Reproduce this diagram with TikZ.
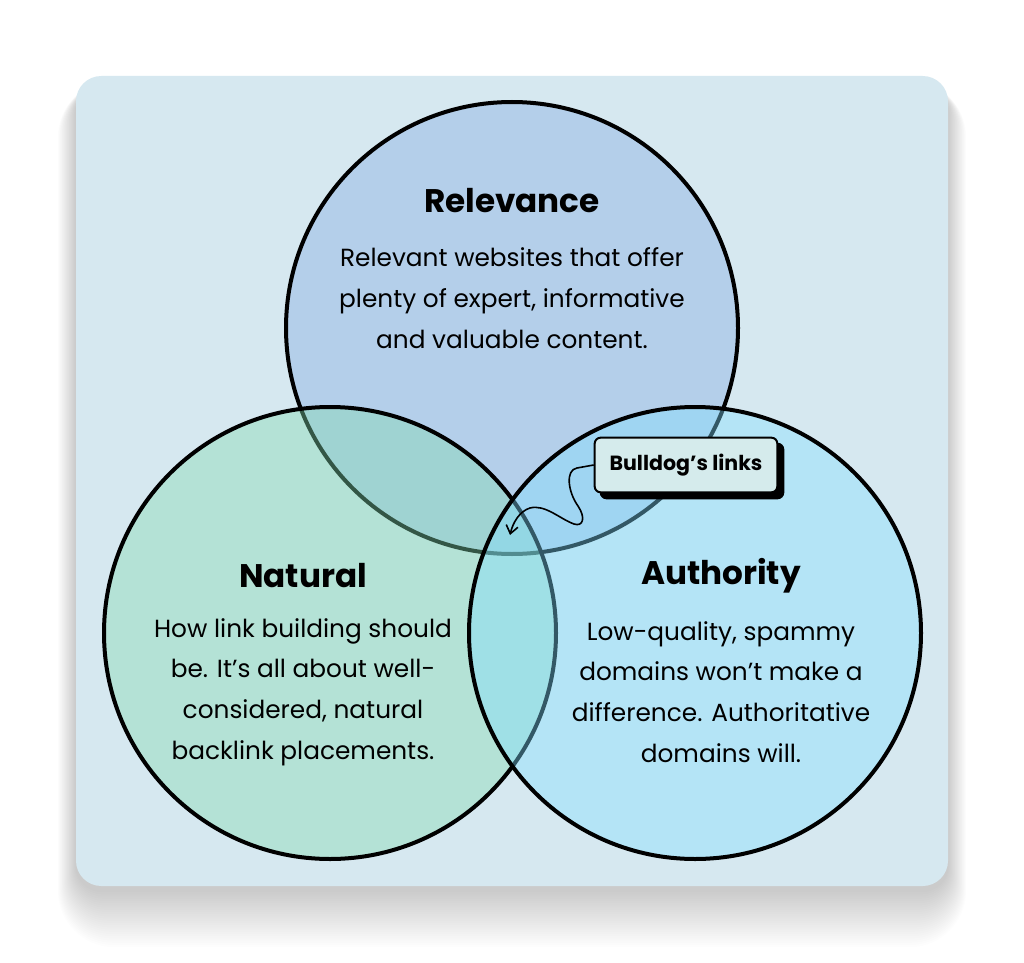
\documentclass[tikz,border=0pt]{standalone}
\usepackage{fontspec}
\setmainfont{Poppins}
\usetikzlibrary{arrows.meta}
\definecolor{bgc}{RGB}{214,232,240}
\definecolor{relc}{RGB}{129,170,225}
\definecolor{natc}{RGB}{129,217,175}
\definecolor{autc}{RGB}{129,222,255}
\definecolor{tagc}{RGB}{213,235,236}
\begin{document}
\begin{tikzpicture}[x=0.75pt,y=-0.75pt,
  venn/.style={draw=black, line width=3pt, fill opacity=0.4, draw opacity=1},
  titletext/.style={font=\fontsize{24.5}{28}\selectfont\bfseries, inner sep=0},
  bodytext/.style={font=\fontsize{18.6}{30.5}\selectfont, align=center, inner sep=0},
  tagbox/.style={draw=black, line width=1.5pt, fill=tagc, rounded corners=4.5pt,
    minimum width=137pt, minimum height=41pt, inner sep=0,
    font=\fontsize{15.4}{17}\selectfont\bfseries},
  squig/.style={line width=1.2pt, -{Straight Barb[length=6pt,width=9pt]}}
]
\useasboundingbox (0,0) rectangle (1024,963);
\fill[white] (0,0) rectangle (1024,963);
% soft shadow
\foreach \i in {1,...,26} {
  \fill[black, opacity=0.008, rounded corners={(19+\i*0.9)*1pt}]
    (76-0.7*\i, 76-0.2*\i+10) rectangle (948+0.7*\i, 886+2.2*\i+4);
}
\fill[bgc, rounded corners=19pt] (76,76) rectangle (948,886);
% circles
\coordinate (rel) at (512,328);
\coordinate (nat) at (330,633);
\coordinate (aut) at (695,633);
\draw[venn, fill=relc] (rel) circle (226);
\draw[venn, fill=natc] (nat) circle (226);
\draw[venn, fill=autc] (aut) circle (226);
% texts
\node[titletext] (relt) at (512,201) {Relevance};
\node[bodytext] (relb) at (512,298) {Relevant websites that offer\\plenty of expert, informative\\and valuable content.};
\node[titletext] (natt) at (303,576) {Natural};
\node[bodytext] (natb) at (303,692) {How link building should\\be. It’s all about well-\\considered, natural\\backlink placements.};
\node[titletext] (autt) at (721,576) {Authority};
\node[bodytext] (autb) at (721,692) {Low-quality, spammy\\domains won’t make a\\difference. Authoritative\\domains will.};
% tag
\node[tagbox, fill=black] (tagsh) at (692,471) {};
\node[tagbox] (tag) at (686,465) {Bulldog’s links};
\coordinate (tip) at (510,535);
\draw[squig] (tag.west) -- (577,468)
  .. controls (565,470) and (568,492) .. (578,506)
  .. controls (586,518) and (583,527) .. (574,524)
  .. controls (560,519) and (545,504) .. (530,508)
  .. controls (520,511) and (513,522) .. (tip);
\end{tikzpicture}
\end{document}
